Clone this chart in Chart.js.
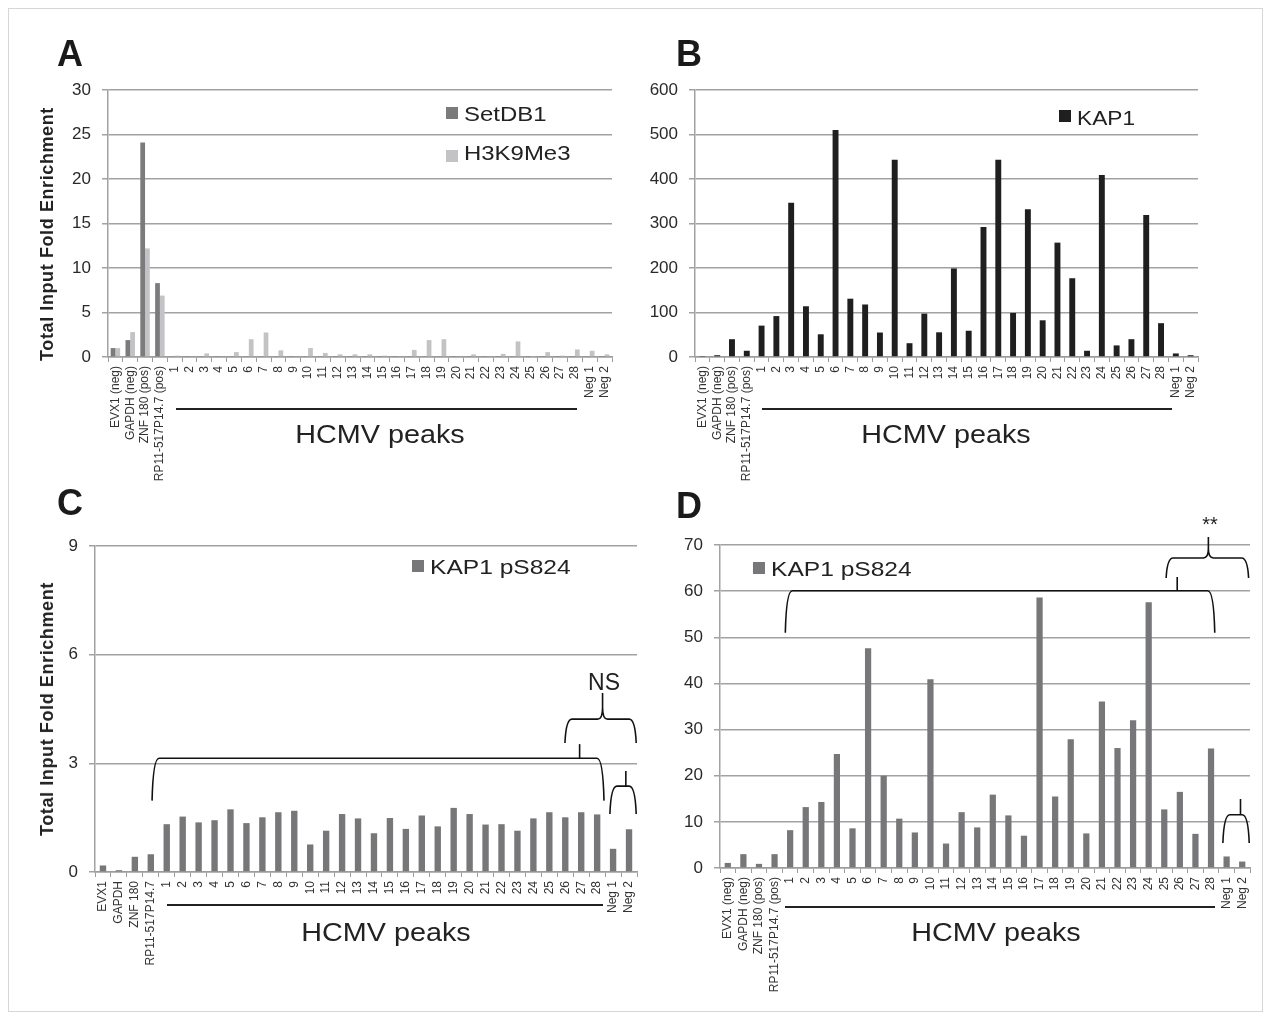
<!DOCTYPE html>
<html>
<head>
<meta charset="utf-8">
<title>Total input fold enrichment at HCMV peaks</title>
<script src="https://cdn.jsdelivr.net/npm/chart.js"></script>
<style>
  body { margin: 0; background: #fff; font-family: "Liberation Sans", Arial, sans-serif; color: #222; }
  #fig { position: relative; width: 1271px; height: 1019px; overflow: hidden; }
  .frame { position: absolute; left: 8px; top: 8px; width: 1253px; height: 1002px; border: 1px solid #d6d6d6; }
  canvas { position: absolute; }
  .t { position: absolute; white-space: nowrap; line-height: 1; transform: translate(-50%, -50%) scaleX(var(--sx, 1)); }
  .letter { font-weight: bold; font-size: 36px; color: #1a1a1a; }
  .ytitle { font-weight: bold; font-size: 18px; letter-spacing: 0.6px; transform: translate(-50%, -50%) rotate(-90deg); }
  .peaks { font-size: 25px; --sx: 1.15; }
  .hline { position: absolute; height: 2px; background: #222; }
  .leg { position: absolute; white-space: nowrap; font-size: 21px; line-height: 1; transform-origin: left center; transform: translateY(-50%) scaleX(var(--sx, 1.14)); }
  .sq { position: absolute; width: 12px; height: 12px; }
</style>
</head>
<body>
<div id="fig">
  <div class="frame"></div>

  <canvas id="chartA" width="565" height="417" style="left:60px;top:68px"></canvas>
  <canvas id="chartB" width="575" height="417" style="left:640px;top:68px"></canvas>
  <canvas id="chartC" width="610" height="446" style="left:40px;top:524px"></canvas>
  <canvas id="chartD" width="595" height="500" style="left:670px;top:505px"></canvas>

  <div class="t letter" style="left:70px;top:54px">A</div>
  <div class="t letter" style="left:689px;top:54px">B</div>
  <div class="t letter" style="left:70px;top:503px">C</div>
  <div class="t letter" style="left:689px;top:506px">D</div>

  <div class="t ytitle" style="left:47px;top:234px">Total Input Fold Enrichment</div>
  <div class="t ytitle" style="left:47px;top:709px">Total Input Fold Enrichment</div>

  <!-- legends -->
  <div class="sq" style="left:446px;top:107px;background:#7b7b7d"></div>
  <div class="leg" style="left:464px;top:113px">SetDB1</div>
  <div class="sq" style="left:446px;top:150px;background:#c3c3c5"></div>
  <div class="leg" style="left:464px;top:152px">H3K9Me3</div>
  <div class="sq" style="left:1059px;top:110px;background:#1f1f1f"></div>
  <div class="leg" style="left:1077px;top:117px;--sx:1.08">KAP1</div>
  <div class="sq" style="left:412px;top:560px;background:#77777a"></div>
  <div class="leg" style="left:430px;top:566px;--sx:1.17">KAP1 pS824</div>
  <div class="sq" style="left:753px;top:562px;background:#77777a"></div>
  <div class="leg" style="left:771px;top:568px;--sx:1.17">KAP1 pS824</div>

  <!-- HCMV peaks underlines -->
  <div class="hline" style="left:176px;top:408px;width:401px"></div>
  <div class="hline" style="left:762px;top:408px;width:410px"></div>
  <div class="hline" style="left:167px;top:904px;width:436px"></div>
  <div class="hline" style="left:785px;top:906px;width:430px"></div>
  <div class="t peaks" style="left:380px;top:434px">HCMV peaks</div>
  <div class="t peaks" style="left:946px;top:434px">HCMV peaks</div>
  <div class="t peaks" style="left:386px;top:932px">HCMV peaks</div>
  <div class="t peaks" style="left:996px;top:932px">HCMV peaks</div>

  <div class="t" style="left:604px;top:682px;font-size:23px">NS</div>
  <div class="t" style="left:1210px;top:524px;font-size:20px">**</div>
</div>

<script>
const peakLabels = ['1', '2', '3', '4', '5', '6', '7', '8', '9', '10', '11', '12', '13', '14',
  '15', '16', '17', '18', '19', '20', '21', '22', '23', '24', '25', '26', '27', '28'];
const negLabels = ['Neg 1', 'Neg 2'];
const controlsLong = ['EVX1 (neg)', 'GAPDH (neg)', 'ZNF 180 (pos)', 'RP11-517P14.7 (pos)'];
const controlsShort = ['EVX1', 'GAPDH', 'ZNF 180', 'RP11-517P14.7'];

const labelsLong = [...controlsLong, ...peakLabels, ...negLabels];
const labelsShort = [...controlsShort, ...peakLabels, ...negLabels];

// panel A
const setdb1 = [1.0, 1.9, 24.1, 8.3, 0.1, 0.05, 0.1, 0.05, 0.1, 0.1, 0.1, 0.1, 0.05, 0.1,
  0.1, 0.05, 0.05, 0.05, 0.05, 0.05, 0.1, 0.1, 0.1, 0.05, 0.05, 0.05, 0.05, 0.1, 0.05, 0.05,
  0.05, 0.05, 0.1, 0.05];
const h3k9me3 = [1.0, 2.8, 12.2, 6.9, 0.15, 0, 0.4, 0, 0.55, 2.0, 2.75, 0.75, 0, 1.0,
  0.45, 0.3, 0.3, 0.3, 0.15, 0, 0.8, 1.9, 2.0, 0, 0.3, 0, 0.35, 1.75, 0.05, 0.55,
  0.15, 0.85, 0.7, 0.3];
// panel B
const kap1 = [1, 4, 40, 14, 70.5, 92, 346.5, 114, 51, 510, 131, 118, 55, 443,
  31, 97.5, 55.5, 199, 59, 292, 443, 99, 332, 82.5, 257, 177, 14, 409, 26, 40,
  319, 76, 8, 4];
// panel C
const ps824C = [0.18, 0.05, 0.42, 0.49, 1.32, 1.53, 1.37, 1.43, 1.73, 1.35, 1.51, 1.65, 1.69, 0.76,
  1.14, 1.60, 1.48, 1.07, 1.49, 1.19, 1.56, 1.26, 1.77, 1.60, 1.31, 1.32, 1.14, 1.48, 1.65, 1.51,
  1.65, 1.59, 0.64, 1.18];
// panel D
const ps824D = [1.1, 3.0, 0.9, 3.0, 8.2, 13.2, 14.3, 24.7, 8.6, 47.6, 20.0, 10.7, 7.7, 40.9,
  5.3, 12.1, 8.8, 15.9, 11.4, 7.0, 58.6, 15.5, 27.9, 7.5, 36.1, 26.0, 32.0, 57.6, 12.7, 16.5,
  7.4, 25.9, 2.5, 1.4];

const yMaxA = 30, yStepA = 5;
const yMaxB = 600, yStepB = 100;
const yMaxC = 9, yStepC = 3;
const yMaxD = 70, yStepD = 10;

// significance brackets, in category index / value units
const bracketsC = [
  { kind: 'bracket', from: 3.08, to: 31.43, y: 3.14, end: 1.97, tick: 29.9, tickTop: 3.53 },
  { kind: 'bracket', from: 31.8, to: 33.45, y: 2.37, end: 1.6, tick: 32.8, tickTop: 2.79 },
  { kind: 'brace', from: 28.98, to: 33.45, y: 4.22, end: 3.56, mid: 31.34, top: 4.94 }
];
const bracketsD = [
  { kind: 'bracket', from: 3.69, to: 31.24, y: 60.1, end: 51.0, tick: 28.83, tickTop: 63.07 },
  { kind: 'bracket', from: 31.76, to: 33.45, y: 11.55, end: 5.42, tick: 32.89, tickTop: 14.95 },
  { kind: 'brace', from: 28.12, to: 33.41, y: 67.19, end: 62.85, mid: 30.83, top: 71.74 }
];

Chart.defaults.font.family = '"Liberation Sans", Arial, sans-serif';
Chart.defaults.color = '#2a2a2a';

const bracketPlugin = {
  id: 'brackets',
  afterDraw(chart, args, opts) {
    const items = opts.items || [];
    if (!items.length) return;
    const ctx = chart.ctx, xs = chart.scales.x, ys = chart.scales.y;
    ctx.save();
    ctx.strokeStyle = '#111';
    ctx.lineWidth = 1.6;
    ctx.lineJoin = 'round';
    items.forEach(b => {
      const x1 = xs.getPixelForValue(b.from), x2 = xs.getPixelForValue(b.to);
      const yh = ys.getPixelForValue(b.y), ye = ys.getPixelForValue(b.end);
      const r = 7;
      ctx.beginPath();
      ctx.moveTo(x1, ye);
      ctx.quadraticCurveTo(x1 + 1, yh, x1 + r, yh);
      if (b.kind === 'brace') {
        const xm = xs.getPixelForValue(b.mid), yt = ys.getPixelForValue(b.top);
        const yk = yh - 0.45 * (yh - yt);
        ctx.lineTo(xm - 5, yh);
        ctx.quadraticCurveTo(xm, yh, xm, yk);
        ctx.lineTo(xm, yt);
        ctx.moveTo(xm, yk);
        ctx.quadraticCurveTo(xm, yh, xm + 5, yh);
      }
      ctx.lineTo(x2 - r, yh);
      ctx.quadraticCurveTo(x2 - 1, yh, x2, ye);
      ctx.stroke();
      if (b.kind === 'bracket') {
        const xt = xs.getPixelForValue(b.tick);
        ctx.beginPath();
        ctx.moveTo(xt, yh);
        ctx.lineTo(xt, ys.getPixelForValue(b.tickTop));
        ctx.stroke();
      }
    });
    ctx.restore();
  }
};

function makeChart(id, labels, datasets, yMax, yStep, geom, brackets) {
  return new Chart(document.getElementById(id), {
    type: 'bar',
    data: { labels: labels, datasets: datasets },
    options: {
      responsive: false,
      animation: false,
      events: [],
      layout: { padding: { top: geom.padTop, right: geom.padRight, left: 0, bottom: 0 } },
      plugins: {
        legend: { display: false },
        tooltip: { enabled: false },
        brackets: { items: brackets || [] }
      },
      scales: {
        x: {
          grid: { drawOnChartArea: false, tickLength: 5, color: '#9c9c9c', lineWidth: 1 },
          border: { color: '#9c9c9c', width: 1.5 },
          ticks: { autoSkip: false, minRotation: 90, maxRotation: 90, padding: 4, font: { size: 12 }, color: '#333' },
          afterFit(s) { s.height = geom.xH; }
        },
        y: {
          min: 0,
          max: yMax,
          grid: { color: '#a2a2a2', lineWidth: 1.5, tickLength: 6 },
          border: { color: '#a2a2a2', width: 1.5 },
          ticks: { stepSize: yStep, padding: 11, font: { size: 17 }, color: '#2a2a2a' },
          afterFit(s) { s.width = geom.yW; }
        }
      }
    },
    plugins: [bracketPlugin]
  });
}

const barBase = { borderWidth: 0, categoryPercentage: 1, barPercentage: 0.4 };

makeChart('chartA', labelsLong, [
  { label: 'SetDB1', data: setdb1, backgroundColor: '#7b7b7d', borderWidth: 0, categoryPercentage: 0.64, barPercentage: 1 },
  { label: 'H3K9Me3', data: h3k9me3, backgroundColor: '#c3c3c5', borderWidth: 0, categoryPercentage: 0.64, barPercentage: 1 }
], yMaxA, yStepA, { padTop: 22, padRight: 13, yW: 48, xH: 128 });

makeChart('chartB', labelsLong, [
  Object.assign({ label: 'KAP1', data: kap1, backgroundColor: '#1f1f1f' }, barBase)
], yMaxB, yStepB, { padTop: 22, padRight: 17, yW: 55, xH: 128 });

makeChart('chartC', labelsShort, [
  Object.assign({ label: 'KAP1 pS824', data: ps824C, backgroundColor: '#77777a' }, barBase)
], yMaxC, yStepC, { padTop: 22, padRight: 13, yW: 55, xH: 98 }, bracketsC);

makeChart('chartD', labelsLong, [
  Object.assign({ label: 'KAP1 pS824', data: ps824D, backgroundColor: '#77777a' }, barBase)
], yMaxD, yStepD, { padTop: 40, padRight: 15, yW: 50, xH: 137 }, bracketsD);
</script>
</body>
</html>
